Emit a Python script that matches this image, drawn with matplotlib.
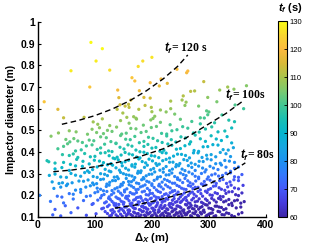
import numpy as np
import matplotlib
matplotlib.use("Agg")
import matplotlib.pyplot as plt
from matplotlib.colors import LinearSegmentedColormap, Normalize
from matplotlib.cm import ScalarMappable

plt.rcParams['font.family'] = ['Liberation Sans', 'DejaVu Sans']
plt.rcParams['mathtext.fontset'] = 'custom'
plt.rcParams['mathtext.it'] = 'Liberation Sans:italic:bold'
plt.rcParams['mathtext.rm'] = 'Liberation Sans:bold'
plt.rcParams['mathtext.bf'] = 'Liberation Sans:bold'

# ---------------- data: (dx [m], diameter [m], t_f [s]) per diameter band ----------------
band1 = [(26,0.110,72),(40,0.105,71),(58,0.120,72),(85,0.108,69),(102,0.115,68),(118,0.125,68),
         (126,0.105,66),(131,0.118,67),(137,0.110,66),(142,0.127,67),(148,0.104,64),(152,0.120,66),
         (157,0.112,64),(161,0.128,66),(166,0.106,63),(170,0.119,64),(174,0.114,63),(178,0.103,62),
         (183,0.125,64),(187,0.109,62),(191,0.121,63),(195,0.116,63),(199,0.104,61),(203,0.128,64),
         (207,0.110,62),(211,0.122,62),(215,0.107,61),(219,0.117,61),(223,0.126,62),(227,0.105,60),
         (231,0.113,60),(235,0.124,61),(239,0.108,60),(243,0.120,60),(247,0.103,60),(251,0.115,60),
         (255,0.127,60),(259,0.110,60),(263,0.121,60),(268,0.106,60),(272,0.118,60),(277,0.125,60),
         (282,0.104,60),(287,0.114,60),(292,0.122,60),(297,0.108,60),(303,0.117,60),(309,0.103,60),
         (316,0.126,60),(323,0.111,60),(331,0.119,60),(340,0.107,60),(352,0.113,60)]
band1b = [(122,0.116,67),(129,0.108,66),(134,0.124,67),(140,0.102,64),(145,0.113,65),(150,0.129,67),
          (155,0.107,64),(159,0.119,65),(163,0.111,63),(168,0.123,64),(172,0.101,62),(176,0.116,63),
          (181,0.109,62),(185,0.127,64),(189,0.104,61),(193,0.113,62),(197,0.122,63),(201,0.108,61),
          (205,0.118,62),(209,0.103,60),(213,0.126,63),(217,0.112,61),(221,0.106,60),(225,0.120,61),
          (229,0.115,60),(233,0.101,60),(237,0.128,60),(241,0.110,60),(245,0.117,60),(249,0.124,60),
          (253,0.105,60),(257,0.119,60),(261,0.112,60),(266,0.126,60),(270,0.102,60),(275,0.115,60),
          (280,0.108,60),(285,0.121,60),(290,0.127,60),(295,0.104,60),(300,0.113,60),(306,0.119,60),
          (312,0.106,60),(319,0.124,60),(327,0.110,60),(335,0.116,60),(345,0.102,60),(358,0.120,60)]
band2 = [(30,0.135,71),(48,0.152,72),(70,0.142,70),(95,0.158,71),(112,0.138,68),(122,0.148,69),
         (128,0.131,67),(134,0.155,69),(139,0.144,68),(145,0.137,67),(150,0.159,69),(155,0.146,67),
         (160,0.133,66),(165,0.151,67),(169,0.140,66),(173,0.157,68),(178,0.134,65),(182,0.149,67),
         (186,0.143,66),(191,0.136,65),(196,0.154,67),(200,0.141,65),(205,0.132,64),(209,0.156,66),
         (214,0.145,65),(218,0.139,64),(223,0.153,65),(228,0.134,63),(232,0.147,64),(237,0.158,65),
         (242,0.137,62),(246,0.150,63),(251,0.142,62),(256,0.133,61),(261,0.155,63),(266,0.146,62),
         (271,0.139,61),(276,0.152,62),(282,0.136,60),(288,0.148,61),(294,0.157,61),(300,0.141,60),
         (307,0.134,60),(314,0.150,60),(322,0.144,60),(330,0.138,60),(341,0.153,60),(356,0.146,60)]
band2b = [(115,0.141,69),(125,0.155,70),(131,0.134,67),(137,0.149,68),(142,0.158,69),(147,0.137,67),
          (152,0.146,68),(158,0.131,66),(163,0.153,68),(167,0.144,67),(171,0.139,66),(176,0.157,68),
          (180,0.132,65),(184,0.150,67),(189,0.143,66),(193,0.136,65),(198,0.159,67),(202,0.140,65),
          (207,0.148,65),(212,0.133,64),(216,0.154,65),(221,0.145,64),(226,0.138,63),(230,0.156,65),
          (235,0.142,63),(240,0.135,62),(244,0.151,63),(249,0.147,63),(254,0.130,61),(259,0.158,63),
          (264,0.141,61),(269,0.153,62),(274,0.137,60),(279,0.149,61),(285,0.144,60),(291,0.132,60),
          (297,0.155,60),(304,0.139,60),(311,0.150,60),(318,0.146,60),(326,0.134,60),(335,0.157,60),
          (348,0.142,60)]
band3 = [(22,0.172,75),(45,0.165,74),(62,0.183,75),(80,0.176,73),(97,0.162,71),(110,0.188,73),
         (120,0.170,71),(127,0.181,72),(133,0.164,70),(140,0.186,72),(146,0.173,70),(151,0.167,70),
         (157,0.184,71),(162,0.161,69),(168,0.178,70),(173,0.189,71),(178,0.169,69),(184,0.175,69),
         (189,0.182,70),(194,0.163,68),(199,0.187,70),(204,0.171,68),(210,0.166,67),(215,0.180,68),
         (220,0.174,67),(225,0.185,68),(231,0.162,65),(236,0.177,66),(241,0.168,65),(247,0.183,66),
         (252,0.172,65),(258,0.188,66),(264,0.165,64),(270,0.179,65),(276,0.170,63),(283,0.184,64),
         (290,0.163,62),(297,0.176,63),(305,0.186,63),(313,0.169,61),(321,0.181,62),(330,0.174,61),
         (340,0.164,60),(350,0.178,60),(362,0.171,60)]
band3b = [(105,0.178,73),(117,0.165,71),(124,0.186,73),(130,0.172,71),(137,0.161,70),(143,0.183,72),
          (149,0.169,70),(154,0.188,72),(160,0.175,70),(165,0.164,69),(171,0.181,70),(176,0.170,69),
          (181,0.187,70),(187,0.163,68),(192,0.177,69),(197,0.184,69),(202,0.166,68),(207,0.179,68),
          (212,0.189,69),(218,0.168,67),(223,0.174,67),(228,0.182,67),(234,0.162,65),(239,0.185,67),
          (244,0.171,65),(250,0.167,65),(255,0.180,66),(261,0.176,65),(267,0.163,63),(273,0.187,65),
          (280,0.173,63),(287,0.168,63),(294,0.183,64),(301,0.165,61),(309,0.178,62),(317,0.186,63),
          (326,0.170,60),(335,0.181,61),(345,0.175,60),(356,0.164,60)]
band4 = [(3,0.200,77),(34,0.196,74),(42,0.192,73),(55,0.208,75),(75,0.214,77),(92,0.198,75),
         (105,0.217,76),(116,0.204,75),(125,0.193,73),(133,0.211,75),(141,0.219,75),(148,0.201,73),
         (155,0.195,72),(162,0.213,74),(169,0.206,73),(176,0.191,71),(183,0.216,73),(190,0.203,72),
         (197,0.209,72),(204,0.197,70),(211,0.218,72),(218,0.194,69),(225,0.207,70),(232,0.212,70),
         (239,0.199,69),(246,0.215,70),(253,0.202,68),(260,0.191,67),(267,0.210,68),(274,0.205,67),
         (281,0.218,68),(289,0.196,65),(297,0.213,66),(306,0.200,65),(315,0.208,65),(325,0.194,63),
         (335,0.216,64),(347,0.203,62),(358,0.211,63)]
band4b = [(62,0.205,77),(85,0.195,75),(100,0.212,76),(112,0.199,74),(121,0.218,76),(129,0.203,74),
          (137,0.192,73),(145,0.210,74),(152,0.216,74),(159,0.197,72),(166,0.207,73),(173,0.213,73),
          (180,0.194,71),(187,0.219,73),(194,0.201,71),(201,0.209,72),(208,0.191,70),(215,0.214,71),
          (222,0.204,70),(229,0.198,69),(236,0.217,71),(243,0.206,69),(250,0.193,67),(257,0.211,69),
          (264,0.200,67),(271,0.215,68),(278,0.196,66),(286,0.208,67),(294,0.219,67),(302,0.202,65),
          (311,0.212,66),(320,0.195,63),(330,0.209,64),(341,0.217,64),(352,0.199,62)]
band5 = [(28,0.232,81),(50,0.245,81),(66,0.224,79),(84,0.238,79),(98,0.249,80),(110,0.228,77),
         (120,0.241,78),(130,0.222,76),(139,0.235,77),(148,0.247,78),(156,0.230,76),(164,0.243,77),
         (172,0.226,75),(180,0.239,76),(188,0.248,76),(196,0.223,73),(204,0.236,74),(212,0.244,75),
         (220,0.229,73),(228,0.240,73),(236,0.221,71),(244,0.246,73),(252,0.233,71),(260,0.227,70),
         (268,0.242,71),(276,0.237,70),(285,0.225,68),(294,0.248,70),(303,0.231,68),(312,0.244,69),
         (322,0.228,66),(333,0.239,67),(345,0.234,66),(360,0.246,66)]
band5b = [(40,0.238,81),(75,0.227,79),(92,0.244,80),(104,0.233,78),(115,0.221,77),(125,0.247,79),
          (135,0.230,77),(144,0.240,77),(152,0.224,75),(160,0.249,78),(168,0.236,76),(176,0.228,75),
          (184,0.243,76),(192,0.232,75),(200,0.246,76),(208,0.225,73),(216,0.239,74),(224,0.248,74),
          (232,0.234,73),(240,0.222,71),(248,0.241,72),(256,0.229,71),(264,0.245,72),(272,0.231,70),
          (281,0.237,70),(290,0.249,71),(299,0.226,68),(308,0.242,69),(318,0.235,67),(328,0.223,66),
          (339,0.247,67),(352,0.230,65)]
band6 = [(25,0.262,84),(37,0.255,83),(43,0.258,83),(52,0.252,82),(60,0.258,82),(72,0.266,83),
         (88,0.271,83),(103,0.254,80),(115,0.275,82),(126,0.260,80),(136,0.268,80),(146,0.251,78),
         (155,0.278,81),(164,0.263,79),(173,0.257,78),(182,0.272,79),(191,0.265,78),(200,0.253,76),
         (209,0.276,78),(218,0.261,76),(227,0.269,76),(236,0.256,74),(245,0.274,76),(254,0.259,74),
         (263,0.267,74),(272,0.252,72),(282,0.277,74),(292,0.264,72),(302,0.270,72),(313,0.255,70),
         (325,0.273,71),(337,0.262,69),(352,0.268,69)]
band6b = [(80,0.265,82),(96,0.257,81),(110,0.273,82),(121,0.252,79),(131,0.268,81),(141,0.277,81),
          (150,0.259,79),(159,0.264,79),(168,0.271,79),(177,0.254,77),(186,0.276,79),(195,0.261,77),
          (204,0.269,78),(213,0.251,75),(222,0.274,77),(231,0.263,75),(240,0.256,74),(249,0.270,75),
          (258,0.278,75),(267,0.258,73),(277,0.266,73),(287,0.253,71),(297,0.275,73),(308,0.262,71),
          (319,0.268,71),(331,0.255,69),(344,0.272,70)]
band7 = [(20,0.292,87),(40,0.285,86),(58,0.301,87),(75,0.288,85),(90,0.306,86),(104,0.283,83),
         (117,0.297,84),(128,0.309,85),(139,0.286,82),(150,0.300,83),(160,0.293,82),(170,0.282,80),
         (180,0.305,82),(190,0.290,80),(200,0.298,81),(210,0.284,79),(220,0.307,80),(230,0.295,79),
         (240,0.287,77),(250,0.303,78),(260,0.291,77),(271,0.299,77),(282,0.284,75),(293,0.308,76),
         (305,0.294,74),(317,0.289,73),(330,0.302,73),(345,0.286,71),(358,0.296,71)]
band7b = [(30,0.298,88),(50,0.283,85),(66,0.293,86),(82,0.305,86),(97,0.287,84),(110,0.300,85),
          (122,0.291,83),(134,0.284,82),(145,0.306,84),(155,0.295,82),(165,0.289,81),(175,0.302,82),
          (185,0.282,80),(195,0.297,81),(205,0.308,82),(215,0.286,79),(225,0.294,79),(235,0.303,79),
          (245,0.281,76),(255,0.296,77),(265,0.307,78),(276,0.288,75),(287,0.301,76),(299,0.285,74),
          (311,0.299,74),(324,0.292,73),(338,0.304,73),(352,0.283,70)]
band8 = [(30,0.322,90),(55,0.315,88),(78,0.334,90),(96,0.319,87),(112,0.338,89),(125,0.312,85),
         (137,0.327,87),(148,0.336,87),(159,0.317,85),(170,0.330,86),(181,0.313,83),(192,0.339,86),
         (203,0.324,84),(214,0.316,82),(225,0.333,83),(236,0.321,81),(247,0.337,83),(258,0.314,79),
         (270,0.329,80),(282,0.335,80),(295,0.318,77),(308,0.326,78),(322,0.340,79),(338,0.311,74),
         (352,0.331,76)]
band8b = [(42,0.328,91),(66,0.336,91),(87,0.313,87),(104,0.331,89),(118,0.320,87),(131,0.339,89),
          (143,0.316,85),(154,0.325,86),(165,0.335,87),(176,0.311,83),(187,0.329,85),(198,0.318,83),
          (209,0.338,85),(220,0.323,82),(231,0.314,81),(242,0.332,82),(253,0.321,80),(264,0.337,82),
          (276,0.315,78),(289,0.326,79),(302,0.334,79),(316,0.319,76),(330,0.330,77),(345,0.324,75)]
band9 = [(16,0.360,95),(19,0.355,95),(45,0.352,93),(68,0.366,94),(90,0.345,91),(108,0.358,92),
         (122,0.341,89),(135,0.369,92),(147,0.350,89),(159,0.362,90),(171,0.344,88),(183,0.356,88),
         (195,0.367,89),(207,0.347,86),(219,0.360,87),(231,0.353,85),(243,0.342,84),(256,0.365,85),
         (269,0.349,83),(283,0.357,83),(297,0.368,83),(312,0.346,80),(328,0.361,80),(345,0.352,79)]
band9b = [(30,0.349,94),(57,0.343,92),(79,0.357,93),(99,0.362,92),(115,0.351,91),(128,0.346,90),
          (141,0.364,91),(153,0.355,89),(165,0.341,88),(177,0.368,90),(189,0.350,87),(201,0.359,88),
          (213,0.344,86),(225,0.366,87),(237,0.353,85),(249,0.347,84),(262,0.361,84),(276,0.343,82),
          (290,0.356,82),(304,0.364,82),(320,0.348,80),(336,0.358,80)]
band10 = [(43,0.388,97),(55,0.384,96),(70,0.375,95),(82,0.393,96),(100,0.380,94),(118,0.397,95),
          (132,0.372,92),(146,0.386,93),(160,0.391,93),(173,0.377,91),(186,0.399,92),(199,0.383,90),
          (212,0.374,89),(225,0.395,90),(238,0.381,88),(252,0.389,88),(266,0.373,85),(281,0.396,87),
          (296,0.385,85),(312,0.378,83),(330,0.392,83)]
band10b = [(62,0.391,97),(92,0.378,94),(110,0.395,95),(125,0.383,93),(139,0.376,92),(153,0.398,94),
           (166,0.387,92),(179,0.373,90),(192,0.393,92),(205,0.381,90),(218,0.397,91),(231,0.372,87),
           (245,0.390,88),(259,0.384,87),(273,0.396,87),(288,0.375,84),(304,0.388,85),(320,0.398,85),
           (338,0.379,82)]
band11 = [(35,0.415,100),(52,0.438,102),(66,0.405,98),(85,0.428,99),(104,0.412,97),(117,0.436,99),
          (130,0.402,95),(144,0.422,96),(158,0.433,97),(172,0.409,94),(186,0.426,95),(200,0.418,94),
          (214,0.404,92),(228,0.437,94),(243,0.413,91),(258,0.429,91),(274,0.407,88),(290,0.424,89),
          (307,0.434,89),(325,0.411,86),(343,0.420,85)]
band11b = [(45,0.426,101),(76,0.410,98),(95,0.433,100),(110,0.419,98),(124,0.405,96),(137,0.439,98),
           (151,0.414,95),(165,0.427,96),(179,0.401,93),(193,0.435,96),(207,0.421,94),(221,0.408,92),
           (235,0.431,93),(250,0.416,91),(266,0.437,92),(282,0.403,87),(298,0.425,89),(316,0.432,88),
           (334,0.409,85)]
band12 = [(23,0.473,106),(49,0.458,104),(56,0.447,102),(63,0.462,104),(70,0.451,102),(78,0.444,101),
          (90,0.455,102),(110,0.470,103),(128,0.448,100),(145,0.476,102),(162,0.457,99),(178,0.443,97),
          (194,0.468,99),(210,0.452,97),(226,0.474,98),(242,0.446,94),(259,0.465,95),(276,0.478,95),
          (294,0.449,91),(313,0.460,91),(332,0.471,91)]
band12b = [(98,0.452,101),(120,0.466,102),(137,0.441,99),(154,0.459,100),(170,0.472,100),(186,0.449,98),
           (202,0.463,98),(218,0.444,95),(234,0.457,96),(251,0.470,96),(268,0.447,93),(285,0.461,93),
           (304,0.475,93),(322,0.453,90),(340,0.442,88)]
band13 = [(36,0.488,107),(55,0.498,107),(67,0.493,106),(87,0.482,105),(95,0.505,106),(103,0.490,105),
          (108,0.512,107),(115,0.485,104),(122,0.500,105),(138,0.515,106),(155,0.487,102),(172,0.507,104),
          (190,0.495,102),(208,0.518,103),(226,0.483,99),(244,0.503,99),(263,0.510,99),(283,0.492,96),
          (305,0.516,97),(328,0.497,94)]
band13b = [(130,0.495,104),(147,0.483,102),(163,0.509,104),(181,0.490,102),(199,0.513,103),(217,0.486,99),
           (235,0.498,99),(254,0.517,99),(273,0.488,96),(294,0.506,96),(316,0.493,93),(340,0.511,93)]
band14 = [(45,0.558,113),(81,0.560,112),(97,0.539,109),(105,0.528,108),(113,0.553,110),(126,0.522,107),
          (145,0.545,108),(160,0.533,106),(172,0.556,108),(185,0.524,104),(198,0.548,106),(202,0.555,106),
          (215,0.537,104),(232,0.526,101),(250,0.551,103),(270,0.541,100),(285,0.530,98),(292,0.557,100),
          (310,0.535,97),(335,0.547,96),(345,0.540,95)]
band15 = [(35,0.597,116),(139,0.597,112),(144,0.618,114),(149,0.580,110),(153,0.612,113),(160,0.606,112),
          (177,0.597,111),(188,0.615,112),(199,0.606,110),(200,0.586,109),(215,0.594,108),(233,0.600,108),
          (258,0.615,107),(282,0.612,105),(296,0.590,102),(300,0.585,102),(323,0.571,99),(346,0.617,101),
          (361,0.600,99),(156,0.560,109),(168,0.563,108),(173,0.552,107),(205,0.565,107),(285,0.558,101),
          (298,0.572,101),(240,0.575,105),(225,0.585,107)]
band16 = [(11,0.632,122),(91,0.700,122),(140,0.686,119),(142,0.651,116),(163,0.640,115),(178,0.683,118),
          (186,0.652,115),(197,0.649,114),(233,0.635,110),(253,0.640,109),(260,0.630,108),(268,0.680,112),
          (275,0.682,111),(298,0.652,107),(314,0.632,105),(319,0.686,108),(344,0.690,107),(333,0.700,109),
          (255,0.659,111),(159,0.620,113)]
band17 = [(93,0.906,130),(113,0.877,130),(200,0.837,127),(184,0.820,126),(102,0.820,128),(58,0.775,128),
          (126,0.778,126),(176,0.795,126),(244,0.782,121),(261,0.766,119),(263,0.774,120),(165,0.743,122),
          (170,0.728,121),(197,0.720,119),(216,0.737,119),(227,0.717,117),(213,0.705,117),(291,0.725,113),
          (366,0.706,106)]

# dashed iso-time curves
c120_x = [42, 70, 100, 130, 160, 190, 220, 245, 263]
c120_y = [0.528, 0.545, 0.568, 0.598, 0.635, 0.682, 0.738, 0.795, 0.848]
c100_x = [27, 60, 100, 140, 180, 220, 260, 300, 330, 358]
c100_y = [0.309, 0.317, 0.332, 0.352, 0.380, 0.415, 0.465, 0.530, 0.578, 0.632]
c80_x = [135, 170, 205, 240, 270, 300, 330, 364]
c80_y = [0.141, 0.155, 0.174, 0.198, 0.222, 0.252, 0.292, 0.350]

x_ticks = [0, 100, 200, 300, 400]
y_ticks = [0.1, 0.2, 0.3, 0.4, 0.5, 0.6, 0.7, 0.8, 0.9, 1]
y_ticklabels = ['0.1', '0.2', '0.3', '0.4', '0.5', '0.6', '0.7', '0.8', '0.9', '1']
cb_ticks = [60, 70, 80, 90, 100, 110, 120, 130]

# parula-like colormap, anchors every 5 s from 60 to 130
parula_anchors = [(0.243,0.150,0.660),(0.275,0.235,0.870),(0.270,0.350,0.975),(0.200,0.470,0.990),
                  (0.110,0.570,0.940),(0.090,0.650,0.880),(0.020,0.710,0.810),(0.100,0.750,0.700),
                  (0.260,0.780,0.580),(0.480,0.790,0.440),(0.660,0.770,0.300),(0.850,0.730,0.220),
                  (0.990,0.730,0.250),(0.970,0.830,0.190),(0.976,0.984,0.080)]
parula = LinearSegmentedColormap.from_list('parula', parula_anchors, N=256)

bands = [band1, band1b, band2, band2b, band3, band3b, band4, band4b, band5, band5b, band6, band6b,
         band7, band7b, band8, band8b, band9, band9b, band10, band10b, band11, band11b,
         band12, band12b, band13, band13b, band14, band15, band16, band17]
pts = [p for b in bands for p in b]
xs = np.array([p[0] for p in pts], float)
ds = np.array([p[1] for p in pts], float)
ts = np.array([p[2] for p in pts], float)

fig = plt.figure(figsize=(3.27, 2.49), dpi=100)
ax = fig.add_axes([0.116, 0.1285, 0.697, 0.783])
norm = Normalize(60, 130)
ax.scatter(xs, ds, c=ts, cmap=parula, norm=norm, s=5.5, linewidths=0, zorder=2)

dash = (0, (4, 2.5))
for cx, cy in [(c120_x, c120_y), (c100_x, c100_y), (c80_x, c80_y)]:
    ax.plot(cx, cy, color='black', lw=1.0, linestyle=dash, zorder=3)

lab_kw = dict(fontsize=8.5, family='Liberation Serif', weight='bold', zorder=4)
ax.text(222, 0.88, r'$t_f$= 120 s', va='center', ha='left', **lab_kw)
ax.text(329, 0.663, r'$t_f$= 100s', va='center', ha='left', **lab_kw)
ax.text(355, 0.386, r'$t_f$= 80s', va='center', ha='left', **lab_kw)

ax.set_xlim(0, 400)
ax.set_ylim(0.1, 1.0)
ax.set_xticks(x_ticks)
ax.set_yticks(y_ticks)
ax.set_yticklabels(y_ticklabels)
for s in ['top', 'right']:
    ax.spines[s].set_visible(False)
for s in ['left', 'bottom']:
    ax.spines[s].set_linewidth(1.0)
ax.tick_params(direction='in', length=2.5, width=0.8, labelsize=7.5, pad=2)
for lbl in ax.get_xticklabels() + ax.get_yticklabels():
    lbl.set_fontweight('bold')
ax.set_ylabel('Impactor diameter (m)', fontsize=7.5, fontweight='bold', labelpad=3)
ax.set_xlabel(r'$\mathit{\Delta_X}$ (m)', fontsize=8, fontweight='bold', labelpad=1)

cax = fig.add_axes([0.850, 0.1285, 0.028, 0.786])
cb = fig.colorbar(ScalarMappable(norm=norm, cmap=parula), cax=cax)
cb.set_ticks(cb_ticks)
cb.ax.tick_params(direction='in', length=2, width=0.6, labelsize=5.5, pad=1.5)
cb.outline.set_linewidth(0.8)
fig.text(0.850, 1 - 8 / 249, r'$t_f$ (s)', fontsize=8, fontweight='bold', va='center', ha='left')

fig.savefig('out.png', dpi=100)
